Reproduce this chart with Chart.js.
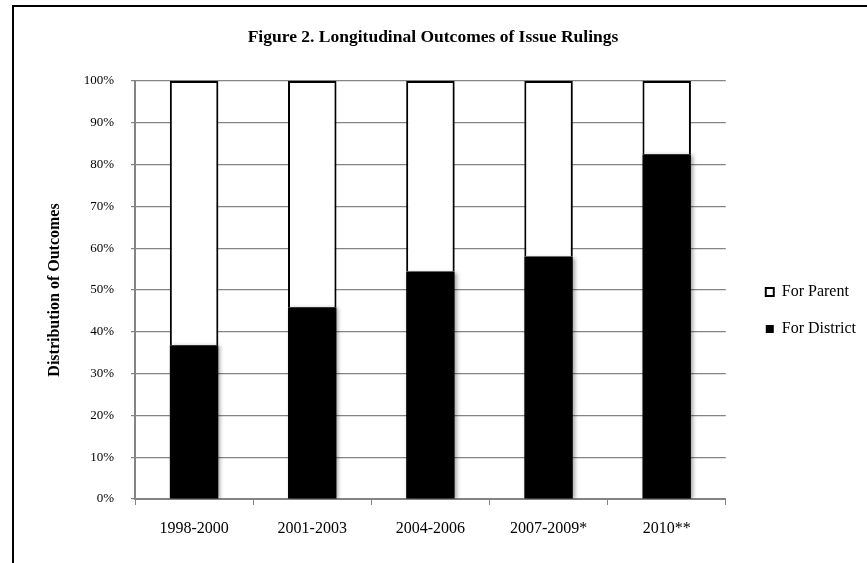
<!DOCTYPE html>
<html>
<head>
<meta charset="utf-8">
<script src="https://cdn.jsdelivr.net/npm/chart.js@4.4.1/dist/chart.umd.min.js"></script>
<style>
    body { margin: 0; background: #fff; overflow: hidden; }
    #wrap { position: relative; width: 867px; height: 563px; }
    #frame {
        position: absolute; left: 12px; top: 5px; width: 900px; height: 600px;
        border-left: 2px solid #000; border-top: 2px solid #000; pointer-events: none;
    }
    canvas { position: absolute; left: 0; top: 0; }
</style>
</head>
<body>
<div id="wrap">
    <canvas id="chart" width="867" height="563"></canvas>
    <div id="frame"></div>
</div>
<script>
// Chart data (percent of rulings)
const periods = ['1998-2000', '2001-2003', '2004-2006', '2007-2009*', '2010**'];
const forDistrict = [36.8, 45.9, 54.4, 58.0, 82.5];
const forParent = [63.2, 54.1, 45.6, 42.0, 17.5];
const seriesNames = ['For District', 'For Parent'];

const FONT = '"Liberation Serif", "Times New Roman", serif';
const GRID = '#848484';

// light drop shadow behind the bars, like the original
const barShadow = {
    id: 'barShadow',
    beforeDatasetsDraw(chart) {
        const ctx = chart.ctx;
        ctx.save();
        ctx.shadowColor = 'rgba(0, 0, 0, 0.35)';
        ctx.shadowBlur = 4;
        ctx.shadowOffsetX = 2;
        ctx.shadowOffsetY = 1;
    },
    afterDatasetsDraw(chart) {
        chart.ctx.restore();
    }
};

new Chart(document.getElementById('chart'), {
    type: 'bar',
    data: {
        labels: periods,
        datasets: [{
            label: seriesNames[0],
            data: forDistrict,
            backgroundColor: '#000',
            borderColor: '#000',
            borderWidth: 0
        }, {
            label: seriesNames[1],
            data: forParent,
            backgroundColor: '#fff',
            borderColor: '#000',
            borderWidth: 2
        }]
    },
    options: {
        responsive: false,
        animation: false,
        devicePixelRatio: 1,
        categoryPercentage: 1,
        barPercentage: 0.41,
        layout: { padding: { left: 0, right: 1, top: 0, bottom: 0 } },
        scales: {
            x: {
                stacked: true,
                z: 1,
                afterFit(s) { s.height = 64; },
                grid: { drawOnChartArea: false, offset: true, tickLength: 6, color: GRID, lineWidth: 1 },
                border: { color: GRID, width: 2 },
                ticks: { color: '#000', padding: 14, font: { family: FONT, size: 16 } }
            },
            y: {
                stacked: true,
                min: 0,
                max: 100,
                afterFit(s) { s.width = 135; },
                grid: { color: GRID, lineWidth: 1.2, tickLength: 4 },
                border: { color: GRID, width: 2 },
                ticks: {
                    stepSize: 10,
                    color: '#000',
                    padding: 17,
                    font: { family: FONT, size: 13 },
                    callback: v => v + '%'
                },
                title: {
                    display: true,
                    text: 'Distribution of Outcomes',
                    color: '#000',
                    padding: { top: 45, bottom: 0 },
                    font: { family: FONT, size: 16, weight: 'bold' }
                }
            },
            // empty spacer between plot and legend
            gap: {
                type: 'linear',
                position: 'right',
                display: true,
                afterFit(s) { s.width = 19; },
                grid: { display: false },
                border: { display: false },
                ticks: { display: false }
            }
        },
        plugins: {
            title: {
                display: true,
                text: 'Figure 2. Longitudinal Outcomes of Issue Rulings',
                color: '#000',
                padding: { top: 27, bottom: 33 },
                font: { family: FONT, size: 17.5, weight: 'bold' }
            },
            legend: {
                position: 'right',
                fullSize: false,
                reverse: true,
                title: { display: true, text: ' ', padding: { top: 31, bottom: 0 }, font: { size: 10, lineHeight: 1 } },
                labels: {
                    boxWidth: 8,
                    boxHeight: 8,
                    padding: 21,
                    color: '#000',
                    font: { family: FONT, size: 16 }
                }
            },
            tooltip: { enabled: false }
        }
    },
    plugins: [barShadow]
});
</script>
</body>
</html>
